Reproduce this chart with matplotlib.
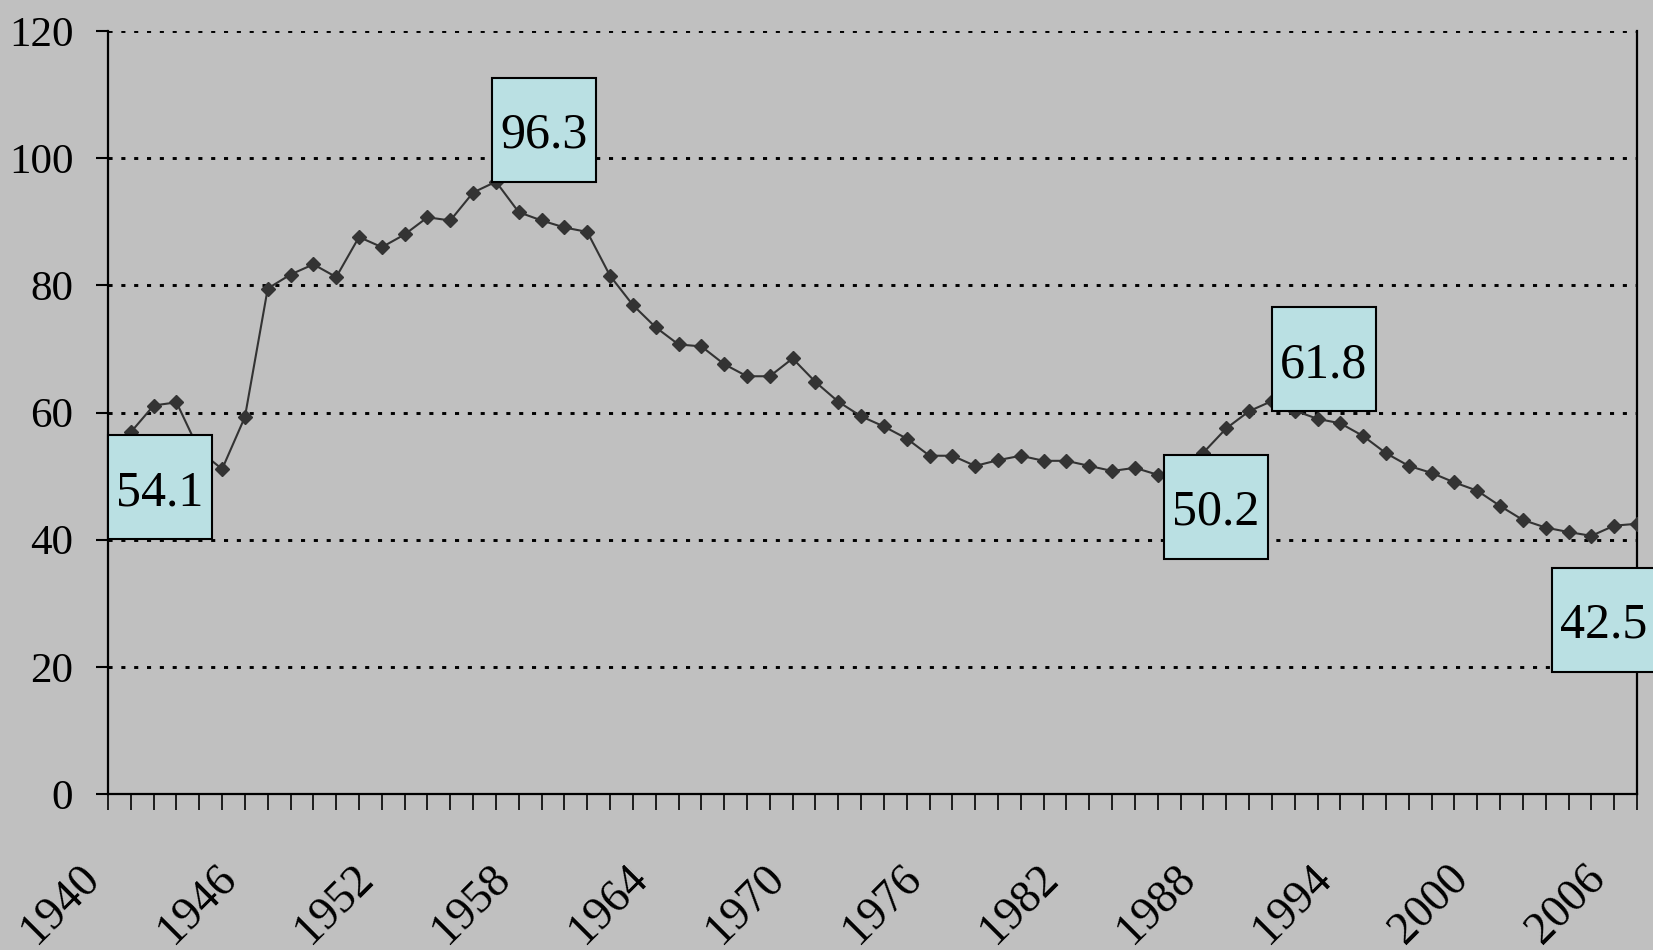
import matplotlib
matplotlib.use("Agg")
import matplotlib.pyplot as plt
import matplotlib.transforms as mtransforms
from matplotlib.patches import Rectangle

plt.rcParams["font.family"] = ["Liberation Serif", "DejaVu Serif"]

# ============================
# data
# ============================

years = list(range(1940, 2008))
values = [
    54.1, 56.9, 61.1, 61.6, 54.0, 51.1, 59.3, 79.5, 81.7, 83.3,
    81.3, 87.6, 86.0, 88.0, 90.7, 90.2, 94.6, 96.3, 91.5, 90.2,
    89.1, 88.4, 81.5, 76.9, 73.4, 70.7, 70.4, 67.6, 65.7, 65.7,
    68.5, 64.8, 61.7, 59.4, 57.8, 55.9, 53.2, 53.2, 51.6, 52.5,
    53.2, 52.4, 52.4, 51.6, 50.8, 51.3, 50.2, 51.6, 53.7, 57.5,
    60.2, 61.8, 60.3, 59.0, 58.3, 56.3, 53.6, 51.6, 50.5, 49.0,
    47.7, 45.3, 43.1, 41.9, 41.2, 40.6, 42.2, 42.5,
]
label_years = [1940, 1957, 1986, 1991, 2007]
y_ticks = [0, 20, 40, 60, 80, 100, 120]
x_label_step = 6

# box offsets from the point, in pixels (left, bottom)
box_offsets = [(0, -89), (-4, 0), (6, -84), (0, -10), (-85, -148)]
box_w, box_h = 104, 104

bg = "#C0C0C0"

fig = plt.figure(figsize=(16.53, 9.5), dpi=100)
fig.patch.set_facecolor(bg)
ax = fig.add_axes([108 / 1653, 1 - 794 / 950, (1637 - 108) / 1653, (794 - 31) / 950])
ax.set_facecolor(bg)

ax.plot(years, values, color="#333333", lw=1.5, marker="D", ms=7.5, zorder=3)

# data labels
for yr, (dx, dy) in zip(label_years, box_offsets):
    val = values[years.index(yr)]
    trans = fig.dpi_scale_trans + mtransforms.ScaledTranslation(yr, val, ax.transData)
    rect = Rectangle(
        (dx / 100, dy / 100), box_w / 100, box_h / 100,
        transform=trans, facecolor="#BAE0E3", edgecolor="black",
        lw=1.5, clip_on=False, zorder=5
    )
    ax.add_patch(rect)
    ax.text(
        (dx + box_w / 2) / 100, (dy + box_h / 2 - 18) / 100, f"{val:.1f}",
        transform=trans, ha="center", va="baseline", fontsize=36, zorder=6
    )

ax.set_xlim(1940, 2007)
ax.set_ylim(0, 120)

ax.set_yticks(y_ticks)
ax.set_yticklabels([str(v) for v in y_ticks], fontsize=31)
ax.yaxis.grid(True, color="black", linestyle=(0, (1.4, 3.0)), lw=2.1)
ax.set_axisbelow(True)

ax.set_xticks(years)
ax.set_xticklabels(
    [str(y) if (y - years[0]) % x_label_step == 0 else "" for y in years],
    rotation=45, ha="right", va="top", fontsize=33
)
shift = mtransforms.ScaledTranslation(-10 / 100, 0, fig.dpi_scale_trans)
for lab in ax.get_xticklabels():
    lab.set_transform(lab.get_transform() + shift)

ax.tick_params(axis="x", direction="out", length=11.5, width=1.2, pad=34, colors="black")
ax.tick_params(axis="y", direction="out", length=9, width=1.5, pad=16)

for side in ["left", "bottom", "right"]:
    ax.spines[side].set_color("black")
    ax.spines[side].set_linewidth(1.6)
ax.spines["top"].set_visible(False)

fig.savefig("out.png", dpi=100, facecolor=fig.get_facecolor())
